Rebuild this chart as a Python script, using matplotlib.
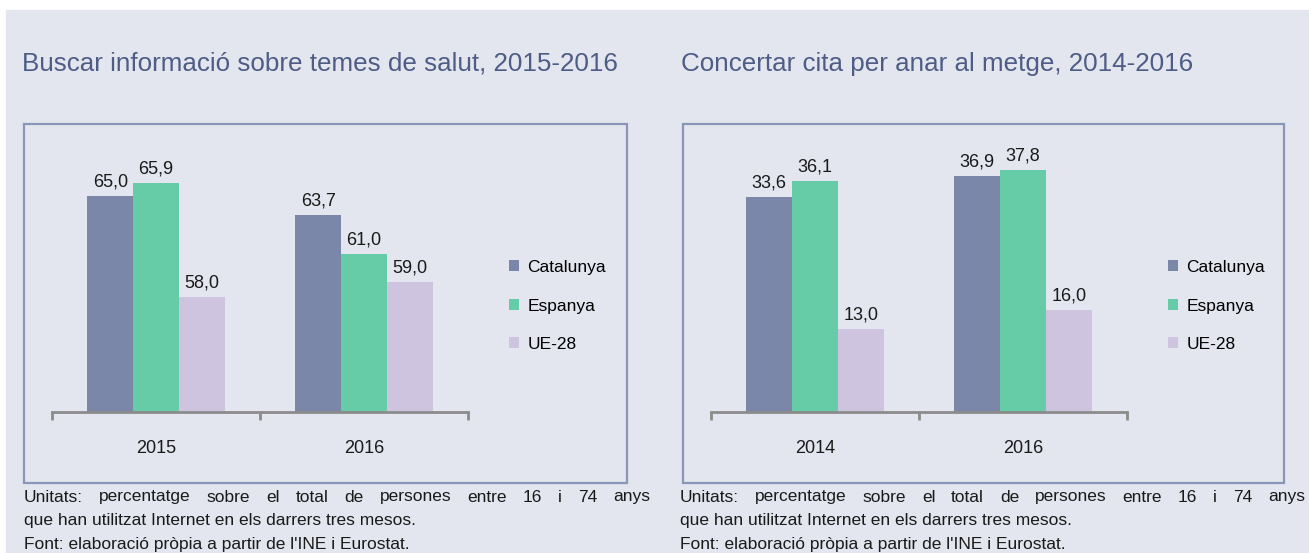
import numpy as np
import matplotlib.pyplot as plt
from matplotlib.patches import Rectangle

# dades
series = ["Catalunya", "Espanya", "UE-28"]
colors = ["#7b87a8", "#66cca8", "#cec4df"]

title_1 = "Buscar informació sobre temes de salut, 2015-2016"
years_1 = ["2015", "2016"]
values_1 = {"Catalunya": [65.0, 63.7], "Espanya": [65.9, 61.0], "UE-28": [58.0, 59.0]}

title_2 = "Concertar cita per anar al metge, 2014-2016"
years_2 = ["2014", "2016"]
values_2 = {"Catalunya": [33.6, 36.9], "Espanya": [36.1, 37.8], "UE-28": [13.0, 16.0]}

note_lines = ["Unitats: percentatge sobre el total de persones entre 16 i 74 anys",
              "que han utilitzat Internet en els darrers tres mesos.",
              "Font: elaboració pròpia a partir de l'INE i Eurostat."]

W, H = 1309, 553
plt.rcParams["font.family"] = ["Liberation Sans Narrow", "Liberation Sans", "DejaVu Sans"]
fig = plt.figure(figsize=(W / 100, H / 100), dpi=100, facecolor="white")

bg = "#e3e6ee"
title_color = "#4e5c86"
border = "#8a95ba"


def px(x, y):
    # pixels (origen a dalt a l'esquerra) -> coordenades de figura
    return x / W, 1 - y / H


fig.patches.append(Rectangle((6 / W, 0), 1, 1 - 10 / H, transform=fig.transFigure,
                             color=bg, zorder=-10))


def panel(x0, title, years, values, ylim, box):
    bx0, bx1 = box
    fig.patches.append(Rectangle(px(bx0, 483), (bx1 - bx0) / W, (483 - 124) / H,
                                 transform=fig.transFigure, fill=False,
                                 edgecolor=border, linewidth=1.6, zorder=1))
    fig.text(*px(bx0 - 2, 64), title, color=title_color, fontsize=18.7,
             va="center", ha="left", family=["Liberation Sans", "DejaVu Sans"])

    l, b = px(x0, 412)
    ax = fig.add_axes([l, b, 416 / W, 288 / H])
    ax.set_facecolor("none")
    x = np.arange(len(years))
    w = 0.22
    for i, s in enumerate(series):
        bars = ax.bar(x + (i - 1) * w, values[s], w, color=colors[i], label=s, zorder=2)
        for rect, v in zip(bars, values[s]):
            ax.annotate(f"{v:.1f}".replace(".", ","),
                        (rect.get_x() + rect.get_width() / 2, rect.get_height()),
                        xytext=(0, 4), textcoords="offset points",
                        ha="center", va="bottom", fontsize=13, color="#1a1a1a")
    ax.set_xlim(-0.5, len(years) - 0.5)
    ax.set_ylim(*ylim)
    for sp in ["top", "right", "left"]:
        ax.spines[sp].set_visible(False)
    ax.spines["bottom"].set_color("#8c8c8c")
    ax.spines["bottom"].set_linewidth(2)
    ax.set_yticks([])
    ax.set_xticks(x)
    ax.set_xticklabels(years, fontsize=13, color="#1a1a1a")
    ax.tick_params(axis="x", which="major", length=0, pad=20)
    ax.set_xticks(np.arange(-0.5, len(years)), minor=True)
    ax.tick_params(axis="x", which="minor", length=6, width=2, color="#8c8c8c")

    handles, labels = ax.get_legend_handles_labels()
    fig.legend(handles, labels, loc="center left",
               bbox_to_anchor=px(x0 + 457, 306), frameon=False, fontsize=12.5,
               handlelength=0.6, handleheight=0.6, handletextpad=0.45,
               labelspacing=1.35, borderpad=0, borderaxespad=0)
    return ax


def justified(x_left, x_right, y, text, size):
    # primera linia de la nota, justificada a tota l'amplada
    r = fig.canvas.get_renderer()
    words = text.split(" ")
    objs = [fig.text(0, 0, wd, fontsize=size, va="center", ha="left", color="#1a1a1a")
            for wd in words]
    widths = [o.get_window_extent(r).width for o in objs]
    gap = (x_right - x_left - sum(widths)) / (len(words) - 1)
    xx = x_left
    for o, wd in zip(objs, widths):
        o.set_position(px(xx, y))
        xx += wd + gap


panel(52, title_1, years_1, values_1, (50, 70), (24, 627))
panel(711, title_2, years_2, values_2, (0, 45), (683, 1284))

fig.canvas.draw()
note_size = 12.5
for xl, xr in [(24, 650), (680, 1305)]:
    justified(xl, xr, 497, note_lines[0], note_size)
    for k, line in enumerate(note_lines[1:], start=1):
        fig.text(*px(xl, 497 + 23.5 * k), line, fontsize=note_size,
                 va="center", ha="left", color="#1a1a1a")

fig.savefig("out.png", dpi=100, facecolor=fig.get_facecolor())
